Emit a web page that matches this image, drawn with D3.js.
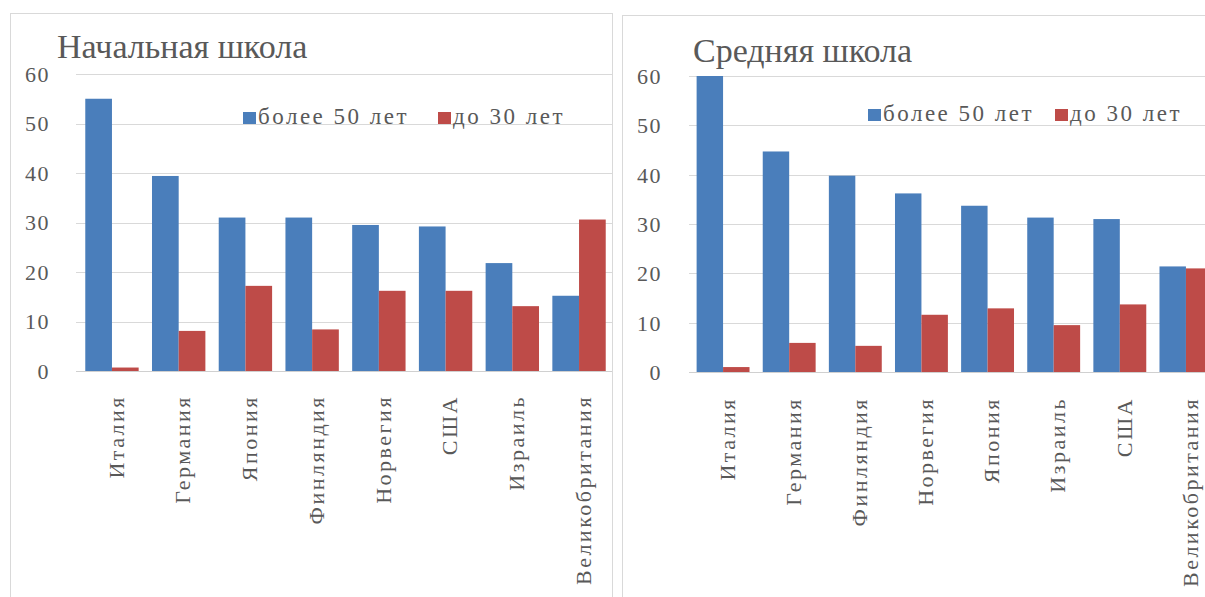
<!DOCTYPE html>
<html>
<head>
<meta charset="utf-8">
<script src="https://cdn.jsdelivr.net/npm/d3@7"></script>
<style>
  html, body { margin: 0; padding: 0; background: #fff; }
  svg { display: block; }
</style>
</head>
<body>
<svg id="chart" width="1205" height="597"></svg>
<script>
// ---- data ----
const seriesNames = ["более 50 лет", "до 30 лет"];
const yTickValues = [0, 10, 20, 30, 40, 50, 60];

const primaryTitle = "Начальная школа";
const primaryCategories = ["Италия", "Германия", "Япония", "Финляндия", "Норвегия", "США", "Израиль", "Великобритания"];
const primaryOver50 = [55, 39.4, 31, 31, 29.5, 29.2, 21.8, 15.2];
const primaryUnder30 = [0.7, 8.1, 17.2, 8.4, 16.2, 16.2, 13.1, 30.6];

const secondaryTitle = "Средняя школа";
const secondaryCategories = ["Италия", "Германия", "Финляндия", "Норвегия", "Япония", "Израиль", "США", "Великобритания"];
const secondaryOver50 = [60, 44.7, 39.8, 36.2, 33.7, 31.3, 31.0, 21.4];
const secondaryUnder30 = [1.0, 5.9, 5.3, 11.6, 12.9, 9.5, 13.7, 21.0];

const colors = ["#4A7EBB", "#BE4B48"];
const FONT = "'Liberation Serif', 'DejaVu Serif', serif";

// ---- drawing ----
const svg = d3.select("#chart");
svg.append("rect").attr("width", 1205).attr("height", 597).attr("fill", "#fff");

function drawPanel(cfg) {
  const g = svg.append("g").attr("font-family", FONT);
  const clipId = "clip" + cfg.id;
  svg.append("defs").append("clipPath").attr("id", clipId)
    .append("rect").attr("x", cfg.box.x).attr("y", cfg.box.y)
    .attr("width", cfg.box.w).attr("height", cfg.box.h);

  const inner = g.append("g").attr("clip-path", `url(#${clipId})`);

  const x0 = d3.scaleBand().domain(cfg.categories).range(cfg.xRange)
    .paddingInner(0.2).paddingOuter(0.1);
  const x1 = d3.scaleBand().domain([0, 1]).range([0, x0.bandwidth()]).padding(0);
  const y = d3.scaleLinear().domain([0, 60]).range(cfg.yRange);

  // gridlines
  inner.append("g").selectAll("line").data(yTickValues).join("line")
    .attr("x1", cfg.gridStart).attr("x2", cfg.box.x + cfg.box.w + 20)
    .attr("y1", d => Math.round(y(d)) + 0.5).attr("y2", d => Math.round(y(d)) + 0.5)
    .attr("stroke", d => d === 0 ? "#d0d0d0" : "#d9d9d9").attr("stroke-width", 1);

  // bars
  const rows = cfg.categories.map((c, i) => ({ c, v: [cfg.over50[i], cfg.under30[i]] }));
  const grp = inner.append("g").selectAll("g").data(rows).join("g")
    .attr("transform", d => `translate(${x0(d.c)},0)`);
  grp.selectAll("rect").data(d => d.v.map((v, k) => ({ v, k }))).join("rect")
    .attr("x", d => x1(d.k))
    .attr("width", x1.bandwidth())
    .attr("y", d => y(d.v))
    .attr("height", d => y(0) - y(d.v))
    .attr("fill", d => colors[d.k]);

  // y axis labels
  const yAxis = d3.axisLeft(y).tickValues(yTickValues).tickSize(0).tickPadding(0);
  const ya = g.append("g").attr("transform", `translate(${cfg.yLabelX},0)`).call(yAxis);
  ya.attr("font-family", FONT);
  ya.select(".domain").remove();
  ya.selectAll("text").attr("font-size", 22).attr("letter-spacing", 1.5)
    .attr("fill", "#595959").attr("dy", "0.34em");

  // x axis labels (rotated)
  const xAxis = d3.axisBottom(x0).tickSize(0).tickPadding(0);
  const xa = inner.append("g").attr("transform", `translate(0,${cfg.xLabelY})`).call(xAxis);
  xa.attr("font-family", FONT);
  xa.select(".domain").remove();
  xa.selectAll("text")
    .attr("font-size", 22).attr("letter-spacing", 2.5)
    .attr("fill", "#595959")
    .attr("text-anchor", "end").attr("dy", "0.35em").attr("y", 0).attr("x", 0)
    .attr("transform", "translate(4,0) rotate(-90)");

  // title
  g.append("text").attr("x", cfg.titleX).attr("y", cfg.titleY)
    .attr("font-size", 34).attr("fill", "#595959").text(cfg.title);

  // legend
  const lg = g.append("g");
  seriesNames.forEach((name, k) => {
    lg.append("rect").attr("x", cfg.legendX[k]).attr("y", cfg.legendY - 12)
      .attr("width", 13).attr("height", 12).attr("fill", colors[k]);
    lg.append("text").attr("x", cfg.legendX[k] + 15).attr("y", cfg.legendY)
      .attr("font-size", 23).attr("letter-spacing", 2.5).attr("fill", "#595959").text(name);
  });

  // panel border
  g.append("rect").attr("x", cfg.box.x + 0.5).attr("y", cfg.box.y + 0.5)
    .attr("width", cfg.box.w).attr("height", cfg.box.h)
    .attr("fill", "none").attr("stroke", "#d9d9d9");
}

drawPanel({
  id: "A", title: primaryTitle, categories: primaryCategories,
  over50: primaryOver50, under30: primaryUnder30,
  box: { x: 10, y: 13, w: 602, h: 600 },
  xRange: [78.6, 612.4], yRange: [371, 74], gridStart: 76,
  yLabelX: 50, xLabelY: 395, titleX: 57, titleY: 58,
  legendX: [243, 438], legendY: 124
});

drawPanel({
  id: "B", title: secondaryTitle, categories: secondaryCategories,
  over50: secondaryOver50, under30: secondaryUnder30,
  box: { x: 622, y: 15, w: 600, h: 600 },
  xRange: [690, 1219], yRange: [372, 76], gridStart: 689,
  yLabelX: 662, xLabelY: 397, titleX: 693, titleY: 62,
  legendX: [868, 1055], legendY: 121
});
</script>
</body>
</html>
